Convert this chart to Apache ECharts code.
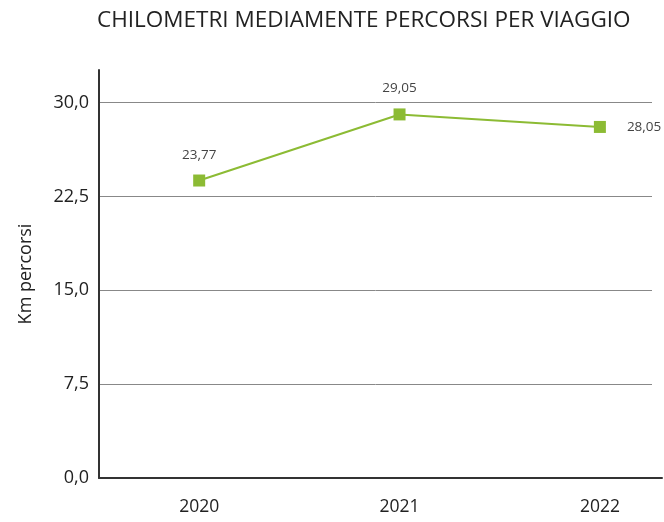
<!DOCTYPE html>
<html>
<head>
    <meta charset="utf-8">
    <title>Chilometri mediamente percorsi per viaggio</title>
    <script src="https://cdn.jsdelivr.net/npm/echarts@6/dist/echarts.min.js"></script>
</head>
<body style="margin:0;background:#fff">
<div id="main" style="width:664px;height:522px"></div>
<script type="text/javascript">
    // dati
    var anni = ['2020', '2021', '2022'];
    var kmPercorsi = [23.77, 29.05, 28.05];
    var titolo = 'CHILOMETRI MEDIAMENTE PERCORSI PER VIAGGIO';
    var nomeAsseY = 'Km percorsi';

    var font = 'Open Sans';
    var verde = '#8cbb34';

    // virgola decimale all'italiana
    function virgola(v, dec) {
        return v.toFixed(dec).replace('.', ',');
    }

    var posLabel = ['top', 'top', 'right'];
    var distLabel = [12, 13, 21];

    // asse x numerico: indice dell'anno
    var punti = kmPercorsi.map(function (v, i) {
        return {
            value: [i, v],
            label: { position: posLabel[i], distance: distLabel[i] }
        };
    });
    var indiciAnni = anni.map(function (a, i) { return i; });

    var myChart = echarts.init(document.getElementById('main'));

    myChart.setOption({
        animation: false,
        title: {
            text: titolo,
            left: 97,
            top: 9,
            padding: 0,
            textStyle: { fontFamily: font, fontSize: 22.5, fontWeight: 'normal', color: '#222' }
        },
        // griglia 0: linee orizzontali e asse y; griglia 1: asse x e serie
        grid: [
            { left: 99, right: 12, top: 70, bottom: 44 },
            { left: 99, right: 2, top: 70, bottom: 44 }
        ],
        xAxis: [
            { type: 'value', gridIndex: 0, show: false },
            {
                type: 'value',
                gridIndex: 1,
                min: -0.5,
                max: 2.31,
                axisLine: { show: true, lineStyle: { color: '#333', width: 2 } },
                axisTick: { show: false },
                splitLine: { show: false },
                axisLabel: {
                    customValues: indiciAnni,
                    margin: 20,
                    fontFamily: font,
                    fontSize: 17.5,
                    color: '#222',
                    formatter: function (v) { return anni[Math.round(v)]; }
                }
            }
        ],
        yAxis: [
            {
                type: 'value',
                gridIndex: 0,
                min: 0,
                max: 32.6,
                interval: 7.5,
                name: nomeAsseY,
                nameLocation: 'middle',
                nameGap: 64,
                nameTextStyle: { fontFamily: font, fontSize: 18, color: '#222' },
                axisLine: { show: true, lineStyle: { color: '#333', width: 2 } },
                axisTick: { show: false },
                axisLabel: {
                    margin: 10,
                    fontFamily: font,
                    fontSize: 18,
                    color: '#222',
                    showMaxLabel: false,
                    formatter: function (v) {
                        return Math.abs(v / 7.5 - Math.round(v / 7.5)) < 1e-6 ? virgola(v, 1) : '';
                    }
                },
                splitLine: {
                    show: true,
                    showMinLine: false,
                    showMaxLine: false,
                    lineStyle: { color: '#888', width: 1 }
                }
            },
            { type: 'value', gridIndex: 1, min: 0, max: 32.6, show: false }
        ],
        series: [
            {
                type: 'line',
                xAxisIndex: 1,
                yAxisIndex: 1,
                data: punti,
                symbol: 'rect',
                symbolSize: 12,
                lineStyle: { color: verde, width: 2 },
                itemStyle: { color: verde },
                label: {
                    show: true,
                    fontFamily: font,
                    fontSize: 13.5,
                    color: '#444',
                    formatter: function (p) { return virgola(p.value[1], 2); }
                },
                z: 5
            }
        ]
    });
</script>
</body>
</html>
